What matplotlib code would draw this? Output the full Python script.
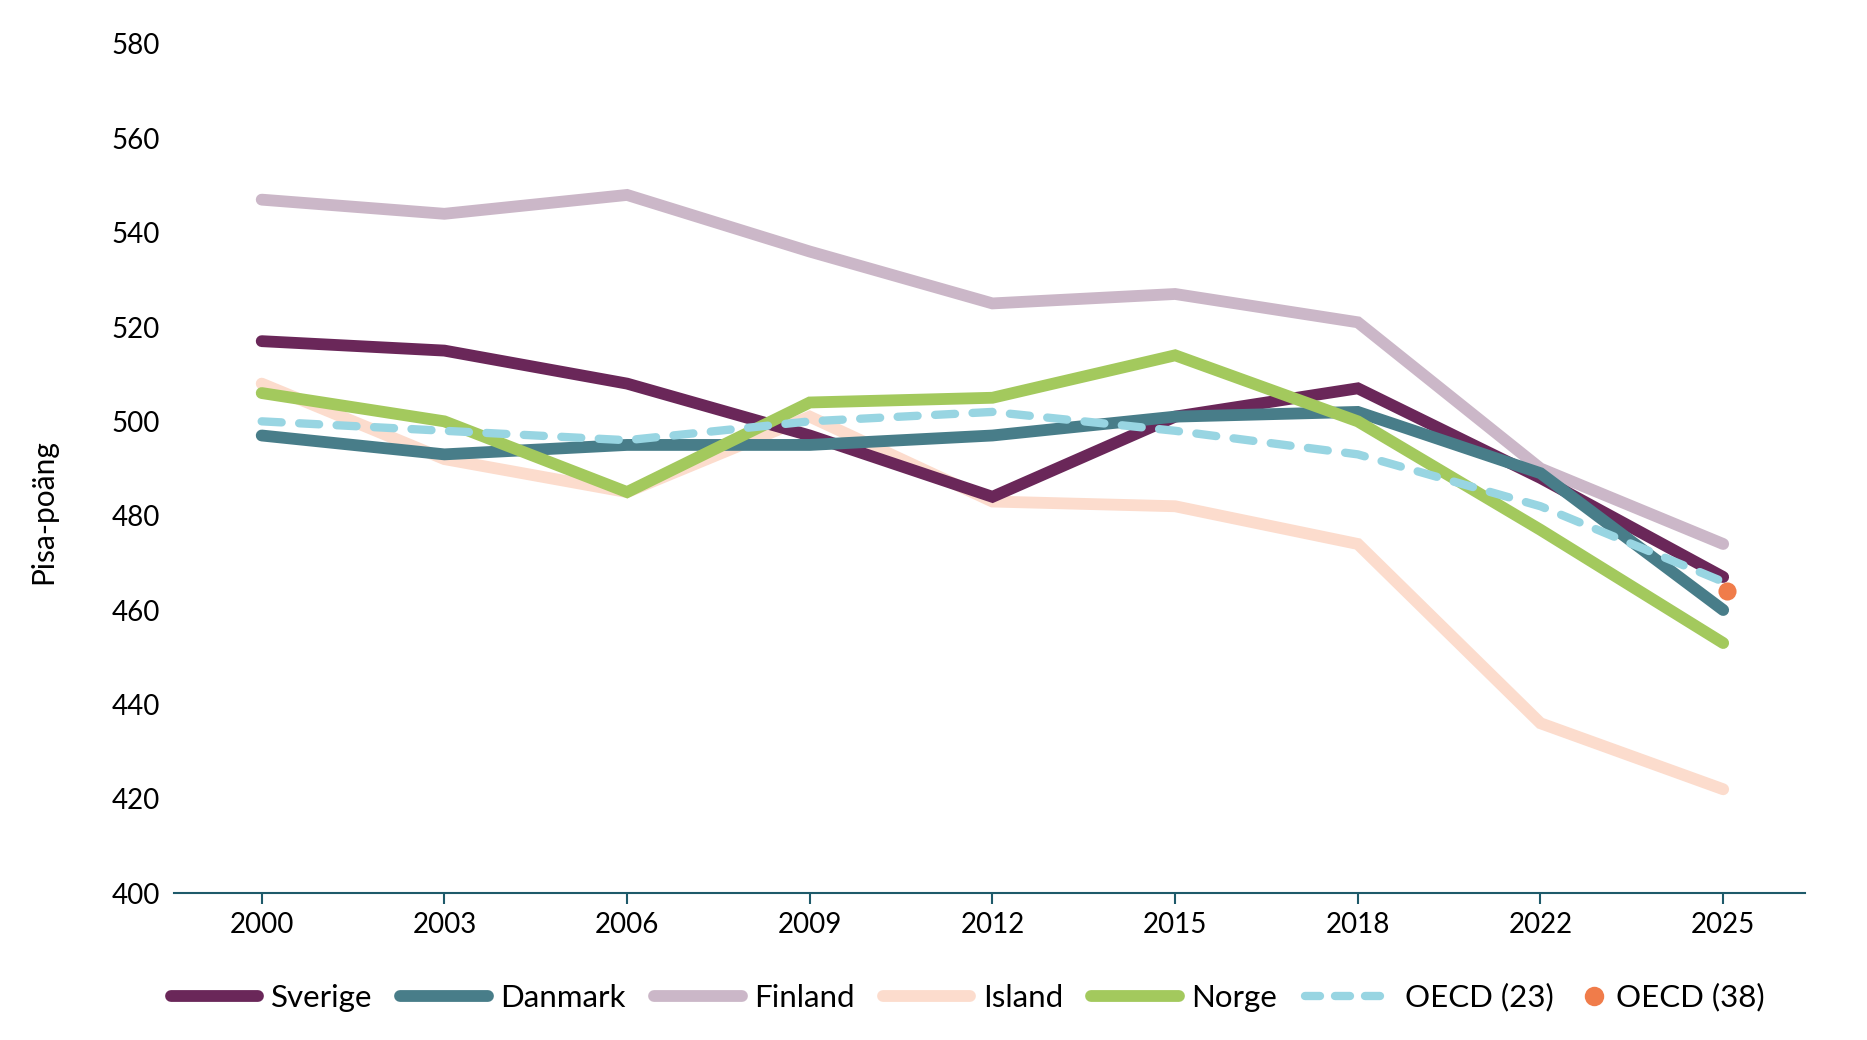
import matplotlib.pyplot as plt
from matplotlib.lines import Line2D

years = ["2000", "2003", "2006", "2009", "2012", "2015", "2018", "2022", "2025"]

sverige = [517, 515, 508, 497, 484, 501, 507, 488, 467]
danmark = [497, 493, 495, 495, 497, 501, 502, 489, 460]
finland = [547, 544, 548, 536, 525, 527, 521, 490, 474]
island = [508, 492, 485, 501, 483, 482, 474, 436, 422]
norge = [506, 500, 485, 504, 505, 514, 500, 477, 453]
oecd23 = [500, 498, 496, 500, 502, 498, 493, 482, 466]
oecd38_2025 = 464

plt.rcParams["font.family"] = ["Lato", "DejaVu Sans"]

fig = plt.figure(figsize=(18.67, 10.40), dpi=100)
ax = fig.add_axes([0.0932, 0.1413, 0.8738, 0.8164])

x = list(range(len(years)))
lw = 8.5
series = [
    ("Sverige", sverige, "#6a2759"),
    ("Danmark", danmark, "#487d89"),
    ("Finland", finland, "#cbb7c8"),
    ("Island", island, "#fcdccd"),
    ("Norge", norge, "#a3c95d"),
]
# ritordning: ljusa linjer först
order = ["Finland", "Island", "Sverige", "Danmark", "Norge"]
lookup = {name: (vals, col) for name, vals, col in series}
for name in order:
    vals, col = lookup[name]
    ax.plot(x, vals, color=col, lw=lw, solid_capstyle="round", solid_joinstyle="miter", zorder=2)
ax.plot(x, oecd23, color="#98d5e2", lw=6, dashes=(2.4, 2.1), dash_capstyle="round", zorder=3)
ax.scatter([x[-1] + 0.02], [oecd38_2025], s=170, color="#f07c4a", zorder=4, linewidths=0)

ax.set_ylim(400, 580)
ax.set_xlim(-0.48, 8.45)
ax.set_yticks(range(400, 581, 20))
ax.set_xticks(x)
ax.set_xticklabels(years)
for s in ["top", "right", "left"]:
    ax.spines[s].set_visible(False)
ax.spines["bottom"].set_color("#1e5a6a")
ax.spines["bottom"].set_linewidth(1.5)
ax.tick_params(axis="y", length=0, labelsize=20, pad=10)
ax.tick_params(axis="x", length=8, width=1.5, color="#1e5a6a", labelsize=20, pad=6)
ax.set_ylabel("Pisa-poäng", fontsize=21.5)
ax.yaxis.set_label_coords(-0.0717, 0.449)

# förklaring: linjerna i en ruta, OECD (38)-punkten i en egen med kort handtag
handles = [Line2D([], [], color=col, lw=lw, solid_capstyle="round") for _, _, col in series]
labels = [name for name, _, _ in series]
handles.append(Line2D([], [], color="#98d5e2", lw=6, dashes=(1.8, 1.8), dash_capstyle="round"))
labels.append("OECD (23)")
leg1 = fig.legend(handles, labels, loc="center left", bbox_to_anchor=(0.0915, 0.041), ncol=6,
                  frameon=False, fontsize=22.5, handlelength=2.8, handletextpad=0.4,
                  columnspacing=0.9, borderpad=0, borderaxespad=0)
dot = Line2D([], [], color="#f07c4a", marker="o", ls="", markersize=14, markeredgewidth=0)
fig.legend([dot], ["OECD (38)"], loc="center left", bbox_to_anchor=(0.849, 0.041),
           frameon=False, fontsize=22.5, handlelength=0.6, handletextpad=0.4,
           borderpad=0, borderaxespad=0)

fig.savefig("out.png", dpi=100)
